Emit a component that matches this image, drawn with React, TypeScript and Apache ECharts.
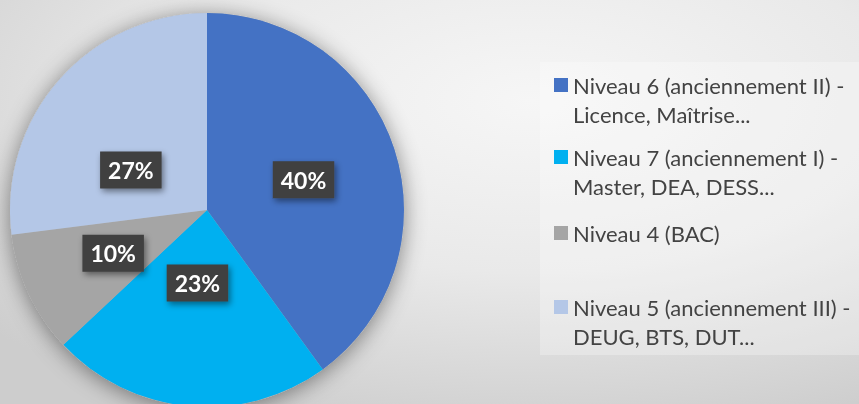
import React, { useEffect, useRef } from "react";
import * as echarts from "echarts";

const categories = [
  "Niveau 6 (anciennement II) - Licence, Maîtrise...",
  "Niveau 7 (anciennement I) - Master, DEA, DESS...",
  "Niveau 4 (BAC)",
  "Niveau 5 (anciennement III) - DEUG, BTS, DUT...",
];
const values = [40, 23, 10, 27];
const legendLines = [
  ["Niveau 6 (anciennement II) -", "Licence, Maîtrise..."],
  ["Niveau 7 (anciennement I) -", "Master, DEA, DESS..."],
  ["Niveau 4 (BAC)", ""],
  ["Niveau 5 (anciennement III) -", "DEUG, BTS, DUT..."],
];
const colors = ["#4472C4", "#00B0F0", "#A5A5A5", "#B4C7E7"];
const labelOffsets = [
  [0, 1],
  [0, -28],
  [-2, 0],
  [0, 27],
];
const legendTops = [41.5, 113.5, 189.5, 263.5];

export default function App() {
  const ref = useRef<HTMLDivElement>(null);
  useEffect(() => {
    if (!ref.current) return;
    const chart = echarts.init(ref.current, null, { renderer: "svg" });
    const legends = categories.map((name, i) => ({
      show: true,
      orient: "vertical",
      left: 554,
      top: legendTops[i],
      padding: 0,
      itemWidth: 14,
      itemHeight: 14,
      icon: "rect",
      data: [name],
      selectedMode: false,
      formatter: () => "\n" + legendLines[i][0] + "\n" + legendLines[i][1],
      textStyle: {
        fontFamily: "Lato",
        fontSize: 22,
        lineHeight: 29,
        color: "#434343",
      },
    }));
    chart.setOption({
      animation: false,
      backgroundColor: {
        type: "radial",
        x: 0.62,
        y: 0.25,
        r: 0.85,
        colorStops: [
          { offset: 0, color: "#f6f6f6" },
          { offset: 0.5, color: "#e9e9e9" },
          { offset: 1, color: "#cdcdcd" },
        ],
      },
      color: colors,
      graphic: [
        {
          type: "rect",
          left: 540,
          top: 62,
          shape: { width: 319, height: 293 },
          style: { fill: "rgba(255,255,255,0.28)" },
          z: -1,
        },
      ],
      legend: legends,
      series: [
        {
          type: "pie",
          silent: true,
          center: [207, 210],
          radius: 197,
          z: 1,
          label: { show: false },
          itemStyle: {
            color: "#b0b0b0",
            shadowBlur: 22,
            shadowColor: "rgba(0,0,0,0.45)",
            shadowOffsetX: 0,
            shadowOffsetY: 3,
          },
          data: [{ value: 1, name: "__shadow" }],
          legendHoverLink: false,
        },
        {
          type: "pie",
          center: [207, 210],
          radius: 197,
          startAngle: 90,
          clockwise: true,
          z: 2,
          labelLine: { show: false },
          label: {
            show: true,
            position: "inside",
            formatter: "{c}%",
            color: "#ffffff",
            fontFamily: "Lato",
            fontWeight: "bold",
            fontSize: 23,
            backgroundColor: "#3f3f3f",
            padding: [8, 8, 6, 8],
            shadowColor: "rgba(0,0,0,0.45)",
            shadowBlur: 6,
            shadowOffsetX: 2,
            shadowOffsetY: 3,
          },
          data: categories.map((name, i) => ({
            name,
            value: values[i],
            label: { offset: labelOffsets[i] },
          })),
        },
      ],
    });
    return () => chart.dispose();
  }, []);
  return (
    <div
      ref={ref}
      style={{ position: "fixed", left: 0, top: 0, width: 859, height: 404 }}
    />
  );
}
